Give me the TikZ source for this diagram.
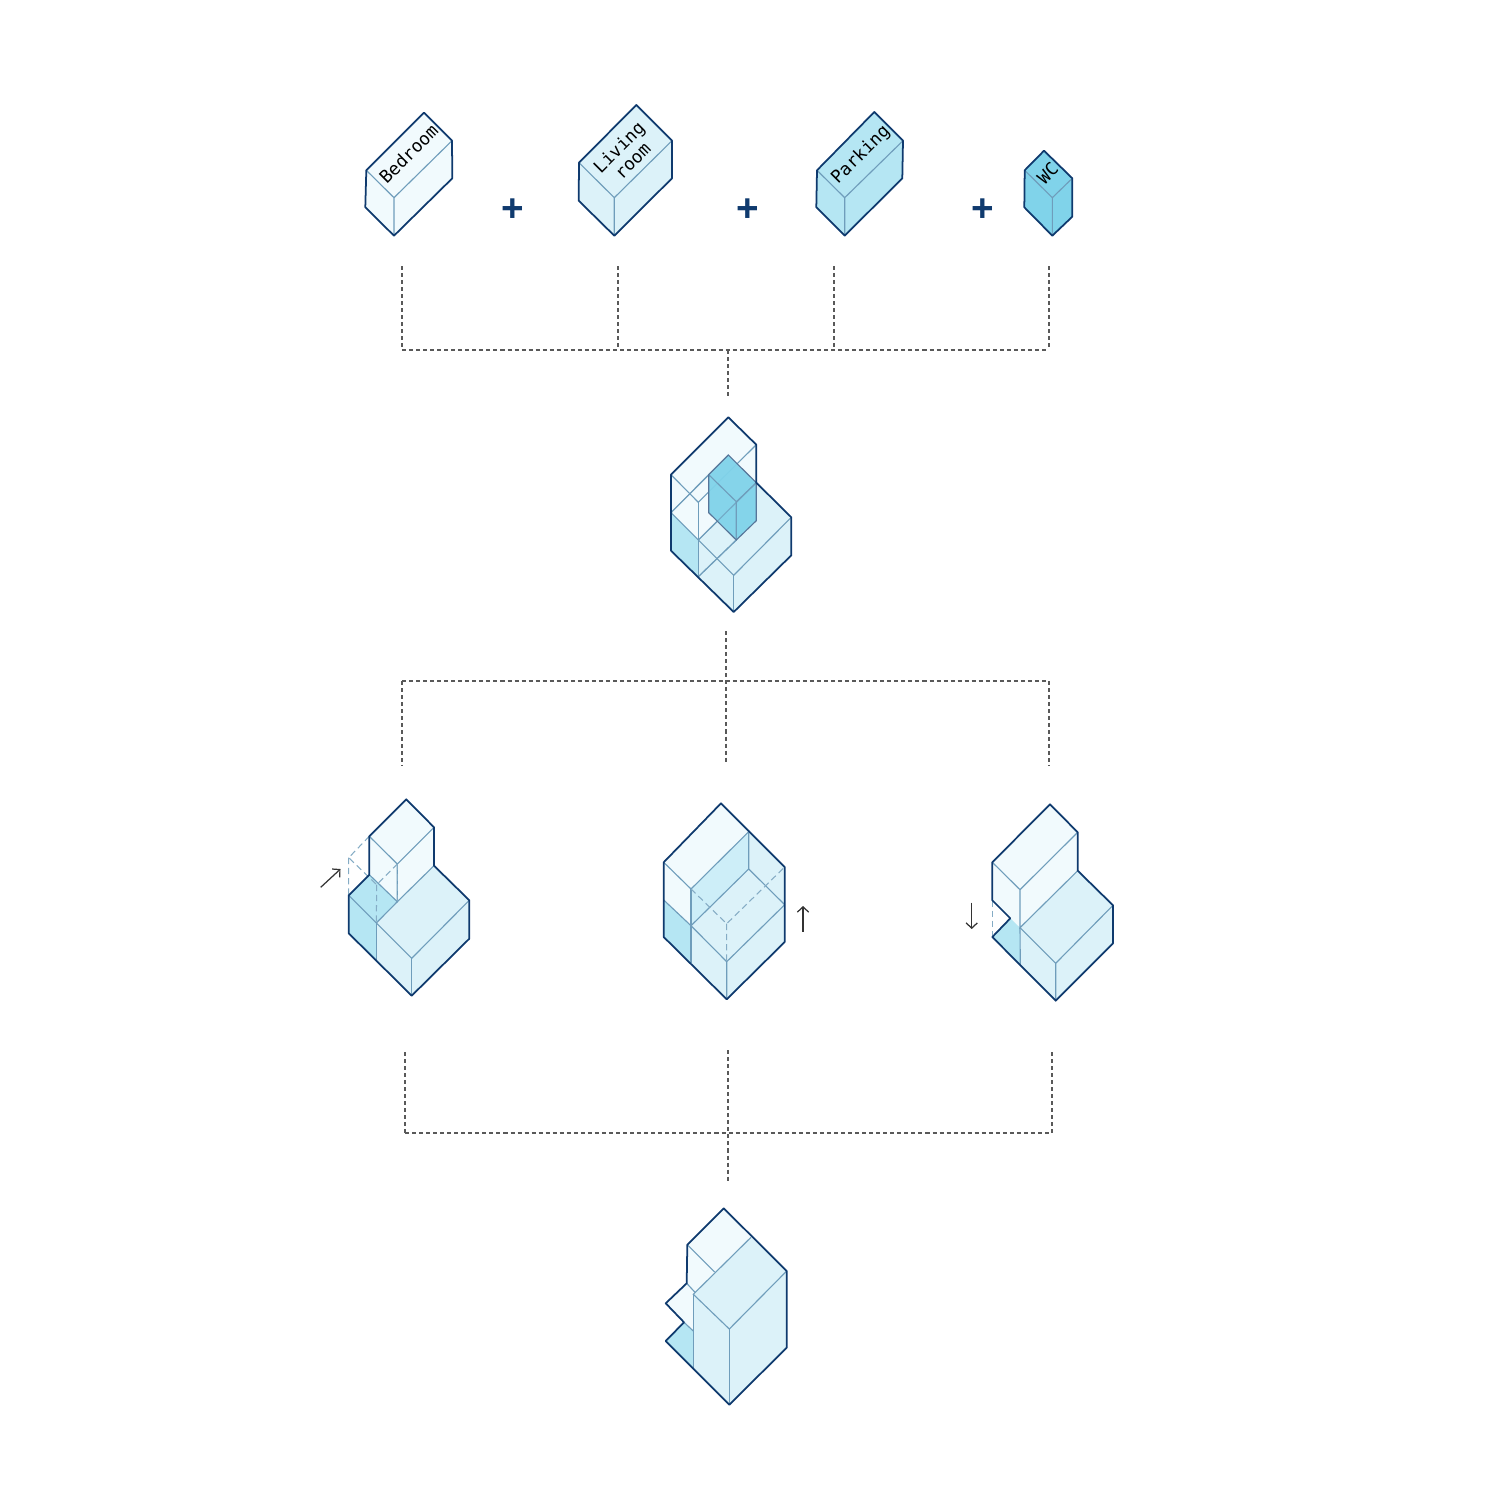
\documentclass[tikz,border=0pt]{standalone}
\usepackage{fontspec}
\setmainfont{Liberation Sans}
\setmonofont{DejaVu Sans Mono}
\usetikzlibrary{arrows.meta}
\definecolor{navy}{HTML}{0F3A6E}
\definecolor{seam}{HTML}{6F9DBB}
\definecolor{bedroomfill}{HTML}{F1FAFD}
\definecolor{livingfill}{HTML}{DCF2F9}
\definecolor{parkingfill}{HTML}{B5E6F3}
\definecolor{wcfill}{HTML}{80D3EA}
\definecolor{shiftfill}{HTML}{CDEEF8}
\tikzset{
  outline/.style={draw=navy, line width=0.5pt, line join=round},
  seamline/.style={draw=seam, line width=0.32pt},
  hidden/.style={draw=seam!85, line width=0.3pt, dash pattern=on 1.8pt off 1.1pt},
  link/.style={draw=black!65, line width=0.32pt, dash pattern=on 1.15pt off 0.85pt},
  movearrow/.style={draw=black!80, line width=0.35pt, -{Straight Barb[length=1.5pt,width=3.2pt]}},
  plus/.style={text=navy, font=\bfseries\fontsize{11pt}{11pt}\selectfont, inner sep=0pt},
  roomlabel/.style={rotate=45, align=center, inner sep=0pt, font=\ttfamily\fontsize{5pt}{5.5pt}\selectfont}
}
\begin{document}
\begin{tikzpicture}[x=0.01cm,y=-0.01cm]
  \useasboundingbox (0,0) rectangle (1500,1500);

  %draw room boxes
  \fill[bedroomfill] (424,112.7) -- (452,140.7) -- (452.3,178.3) -- (394,235.7) -- (365.3,207.3) -- (366.3,170.3) -- cycle;
  \draw[seamline] (366.3,170.3) -- (394,197.7) -- (452,140.7) (394,197.7) -- (394,235.7);
  \draw[outline] (424,112.7) -- (452,140.7) -- (452.3,178.3) -- (394,235.7) -- (365.3,207.3) -- (366.3,170.3) -- cycle;

  \fill[livingfill] (636.3,105) -- (672,140.7) -- (672,178.3) -- (614.3,235.7) -- (578.7,200.7) -- (579,162.7) -- cycle;
  \draw[seamline] (579,162.7) -- (614.3,197.7) -- (672,140.7) (614.3,197.7) -- (614.3,235.7);
  \draw[outline] (636.3,105) -- (672,140.7) -- (672,178.3) -- (614.3,235.7) -- (578.7,200.7) -- (579,162.7) -- cycle;

  \fill[parkingfill] (874.3,112) -- (903,140.7) -- (902.3,178.3) -- (844.7,235.7) -- (816.3,207.3) -- (817,170.3) -- cycle;
  \draw[seamline] (817,170.3) -- (844.7,197.7) -- (903,140.7) (844.7,197.7) -- (844.7,235.7);
  \draw[outline] (874.3,112) -- (903,140.7) -- (902.3,178.3) -- (844.7,235.7) -- (816.3,207.3) -- (817,170.3) -- cycle;

  \fill[wcfill] (1044,150.7) -- (1072.3,178.3) -- (1072.3,216.7) -- (1052.3,235.7) -- (1024.3,207.3) -- (1024.7,170.3) -- cycle;
  \draw[seamline] (1024.7,170.3) -- (1052.3,197.7) -- (1072.3,178.3) (1052.3,197.7) -- (1052.3,235.7);
  \draw[outline] (1044,150.7) -- (1072.3,178.3) -- (1072.3,216.7) -- (1052.3,235.7) -- (1024.3,207.3) -- (1024.7,170.3) -- cycle;

  %draw room names
  \node[roomlabel] (bedroom) at (408.5,154) {Bedroom};
  \node[roomlabel] (living) at (625.5,154) {Living\\room};
  \node[roomlabel] (parking) at (861,155) {Parking};
  \node[roomlabel] (wc) at (1047.7,173.3) {WC};

  %draw plus signs
  \foreach \x/\n in {513/a,748/b,982.5/c}
     \node[plus] (plus\n) at (\x,210) {+};

  %draw first dashed tree
  \coordinate (top1) at (402,266);
  \coordinate (top2) at (618,266);
  \coordinate (top3) at (834,266);
  \coordinate (top4) at (1049,266);
  \coordinate (join1) at (402,350);
  \coordinate (join2) at (618,350);
  \coordinate (join3) at (834,350);
  \coordinate (join4) at (1049,350);
  \coordinate (joinmid) at (728,350);
  \coordinate (stem) at (728,398);
  \draw[link] (top1) -- (join1);
  \draw[link] (top2) -- (join2);
  \draw[link] (top3) -- (join3);
  \draw[link] (top4) -- (join4);
  \draw[link] (join1) -- (join4);
  \draw[link] (joinmid) -- (stem);

  %draw joined model
  \fill[livingfill] (728.3,417.3) -- (756.3,444.7) -- (756.3,482.7) -- (791.3,517.3) -- (791.3,555.3) -- (733.7,612) -- (698.3,576.7) -- (671,550.7) -- (671,474.7) -- cycle;
  \fill[bedroomfill] (728.3,417.3) -- (756.3,444.7) -- (756.3,482.7) -- (698.3,540) -- (671,512.7) -- (671,474.7) -- cycle;
  \fill[parkingfill] (671,512.7) -- (698.3,540) -- (698.3,576.7) -- (671,550.7) -- cycle;
  \draw[seamline] (671,474.7) -- (698.3,502.3) -- (756.3,444.7);
  \draw[seamline] (698.3,502.3) -- (698.3,576.7);
  \draw[seamline] (671,512.7) -- (728.3,455);
  \draw[seamline] (671,512.7) -- (733.7,575.3) -- (791.3,517.3);
  \draw[seamline] (733.7,575.3) -- (733.7,612);
  \draw[seamline] (698.3,540) -- (756.3,482.7);
  \draw[seamline] (698.3,576.7) -- (736.3,540);
  \fill[wcfill, fill opacity=0.95] (728.3,455) -- (756.3,482.7) -- (756.3,520.7) -- (736.3,540) -- (708.7,512.7) -- (708.7,474.7) -- cycle;
  \draw[seamline, draw opacity=0.75] (671,512.7) -- (728.3,455);
  \draw[seamline, draw opacity=0.75] (698.3,540) -- (756.3,482.7);
  \draw[seamline, draw opacity=0.75] (698.3,576.7) -- (736.3,540);
  \draw[seamline] (708.7,474.7) -- (736.3,501.7) -- (756.3,482.7) (736.3,501.7) -- (736.3,540);
  \draw[seamline, draw=navy!70] (728.3,455) -- (756.3,482.7) -- (756.3,520.7) -- (736.3,540) -- (708.7,512.7) -- (708.7,474.7) -- cycle;
  \draw[outline] (728.3,417.3) -- (756.3,444.7) -- (756.3,482.7) -- (791.3,517.3) -- (791.3,555.3) -- (733.7,612) -- (671,550.7) -- (671,474.7) -- cycle;

  %draw second dashed tree
  \coordinate (stem2) at (726,631);
  \coordinate (low2) at (726,763);
  \coordinate (bar1) at (402,681);
  \coordinate (bar2) at (1049,681);
  \coordinate (low1) at (402,766);
  \coordinate (low3) at (1049,766);
  \draw[link] (stem2) -- (low2);
  \draw[link] (bar1) -- (bar2);
  \draw[link] (bar1) -- (low1);
  \draw[link] (bar2) -- (low3);

  %draw left model
  \fill[livingfill] (434,865.7) -- (469.3,900.3) -- (469.3,938.7) -- (411.7,995.7) -- (376.3,959.7) -- (376.3,923) -- (397.3,901.7) -- cycle;
  \fill[bedroomfill] (406.3,799.3) -- (434,827.3) -- (434,865.7) -- (397.3,901.7) -- (369.3,874.7) -- (369.3,836.3) -- cycle;
  \fill[parkingfill] (348.7,895.3) -- (369.3,874.7) -- (397.3,901.7) -- (376.3,923) -- (376.3,959.7) -- (348.7,933.3) -- cycle;
  \draw[seamline] (369.3,836.3) -- (397.3,864) -- (434,827.3) (397.3,864) -- (397.3,901.7) -- (434,865.7);
  \draw[seamline] (369.3,874.7) -- (397.3,901.7) -- (376.3,923);
  \draw[seamline] (348.7,895.3) -- (376.3,923) -- (411.7,958.3) -- (469.3,900.3);
  \draw[seamline] (411.7,958.3) -- (411.7,995.7) (376.3,923) -- (376.3,959.7);
  \draw[hidden] (369.3,836.3) -- (348.7,857.7) -- (376.7,884.7) -- (397.3,864);
  \draw[hidden] (348.7,857.7) -- (348.7,895.3) (376.7,884.7) -- (376.3,923);
  \draw[hidden] (397.3,864) -- (397.3,901.7);
  \draw[outline] (406.3,799.3) -- (434,827.3) -- (434,865.7) -- (469.3,900.3) -- (469.3,938.7) -- (411.7,995.7) -- (348.7,933.3) -- (348.7,895.3) -- (369.3,874.7) -- (369.3,836.3) -- cycle;
  \coordinate (shiftA) at (320.7,887.3);
  \coordinate (shiftB) at (340.5,869);
  \draw[movearrow] (shiftA) -- (shiftB);

  %draw middle model
  \fill[livingfill] (721,803.3) -- (784.7,867) -- (784.7,942) -- (726.7,999.3) -- (691,963.3) -- (663.7,937) -- (663.7,862.3) -- cycle;
  \fill[bedroomfill] (721,803.3) -- (748.7,831.7) -- (691,889) -- (691,925.7) -- (663.7,900) -- (663.7,862.3) -- cycle;
  \fill[shiftfill] (691,889) -- (748.7,831.7) -- (748.7,869) -- (691,925.7) -- cycle;
  \fill[parkingfill] (663.7,900) -- (691,925.7) -- (691,963.3) -- (663.7,937) -- cycle;
  \draw[seamline] (663.7,862.3) -- (691,889) -- (748.7,831.7) -- (748.7,869) -- (691,925.7);
  \draw[seamline] (691,889) -- (691,963.3);
  \draw[seamline] (663.7,900) -- (691,925.7) -- (726.7,961.7) -- (784.7,904.7);
  \draw[seamline] (726.7,961.7) -- (726.7,999.3) (748.7,869) -- (784.7,904.7);
  \draw[hidden] (691,889) -- (726.7,923.7) -- (784.7,867) (726.7,923.7) -- (726.7,961.7);
  \draw[outline] (721,803.3) -- (784.7,867) -- (784.7,942) -- (726.7,999.3) -- (663.7,937) -- (663.7,862.3) -- cycle;
  \coordinate (riseA) at (803,931.7);
  \coordinate (riseB) at (803,906);
  \draw[movearrow] (riseA) -- (riseB);

  %draw right model
  \fill[livingfill] (1077.7,870.7) -- (1113,905.3) -- (1113,943.3) -- (1055.7,1000.7) -- (1020.3,964.7) -- (1020,927.7) -- cycle;
  \fill[bedroomfill] (1050,804.3) -- (1077.7,832.3) -- (1077.7,870.7) -- (1020,927.7) -- (992.3,900.3) -- (992.3,862.3) -- cycle;
  \fill[parkingfill] (992.3,937) -- (1010.3,918.3) -- (1020,927.7) -- (1020.3,964.7) -- cycle;
  \draw[seamline] (992.3,862.3) -- (1020,889.7) -- (1077.7,832.3) (1020,889.7) -- (1020,927.7) -- (1077.7,870.7);
  \draw[seamline] (1020,927.7) -- (1055.7,963.3) -- (1113,905.3) (1055.7,963.3) -- (1055.7,1000.7);
  \draw[seamline] (1020,927.7) -- (1020.3,964.7);
  \draw[hidden] (992.3,900.3) -- (992.3,937);
  \draw[outline] (1050,804.3) -- (1077.7,832.3) -- (1077.7,870.7) -- (1113,905.3) -- (1113,943.3) -- (1055.7,1000.7) -- (992.3,937) -- (1010.3,918.3) -- (992.3,900.3) -- (992.3,862.3) -- cycle;
  \coordinate (dropA) at (971.7,902.7);
  \coordinate (dropB) at (971.7,929);
  \draw[movearrow] (dropA) -- (dropB);

  %draw third dashed tree
  \coordinate (out1) at (405,1052);
  \coordinate (out2) at (728,1050);
  \coordinate (out3) at (1052,1052);
  \coordinate (fork1) at (405,1133);
  \coordinate (fork3) at (1052,1133);
  \coordinate (endstem) at (728,1181);
  \draw[link] (out1) -- (fork1);
  \draw[link] (out2) -- (endstem);
  \draw[link] (out3) -- (fork3);
  \draw[link] (fork1) -- (fork3);

  %draw final model
  \fill[livingfill] (751,1237.3) -- (786.7,1271) -- (786.7,1347.7) -- (729.3,1404.7) -- (693.3,1368.3) -- (693.3,1294.3) -- cycle;
  \fill[bedroomfill] (723.7,1208.3) -- (751,1237.3) -- (693.3,1294.3) -- (686.7,1283.3) -- (687.3,1244.7) -- cycle;
  \fill[bedroomfill] (665.7,1303.3) -- (686.7,1283.3) -- (693.3,1294.3) -- (693.3,1331) -- (684,1322.3) -- cycle;
  \fill[parkingfill] (665.7,1341) -- (684,1322.3) -- (693.3,1331) -- (693.3,1368.3) -- cycle;
  \draw[seamline] (687.3,1244.7) -- (714.7,1272);
  \draw[seamline] (751,1237.3) -- (693.3,1294.3) -- (729.3,1329) -- (786.7,1271);
  \draw[seamline] (729.3,1329) -- (729.3,1404.7) (693.3,1294.3) -- (693.3,1368.3);
  \draw[seamline] (686.7,1283.3) -- (695,1292.3);
  \draw[seamline] (684,1322.3) -- (693.3,1331);
  \draw[outline] (723.7,1208.3) -- (786.7,1271) -- (786.7,1347.7) -- (729.3,1404.7) -- (665.7,1341) -- (684,1322.3) -- (665.7,1303.3) -- (686.7,1283.3) -- (687.3,1244.7) -- cycle;
\end{tikzpicture}
\end{document}
